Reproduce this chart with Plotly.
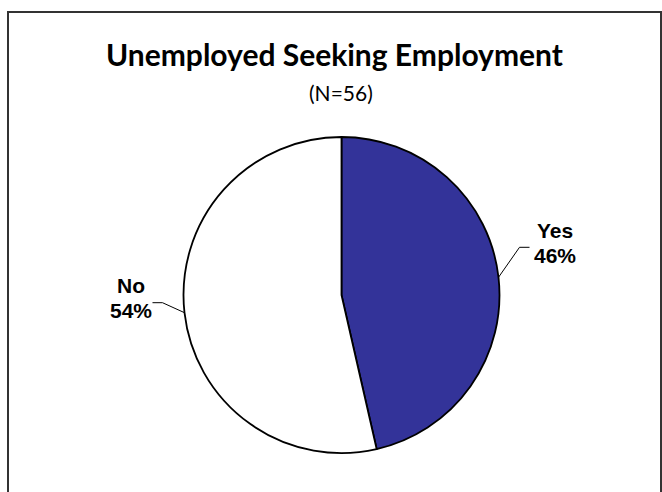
import math
import plotly.graph_objects as go

labels = ["Yes", "No"]
values = [26, 30]
colors = ["#333399", "#FFFFFF"]
title_text = "Unemployed Seeking Employment"
subtitle_text = "(N=56)"

W, H = 662, 492
# pie geometry in pixels
CX, CY, R = 341.5, 295.0, 158.0

def px(x):
    return x / W

def py(y):
    return 1 - y / H

fig = go.Figure()
fig.add_trace(go.Pie(
    labels=labels, values=values, sort=False, direction="clockwise", rotation=0,
    marker=dict(colors=colors, line=dict(color="#000000", width=1.8)),
    textinfo="none", hoverinfo="label+percent", showlegend=False,
    domain=dict(x=[px(CX - R), px(CX + R)], y=[py(CY + R), py(CY - R)]),
))

total = sum(values)
annotations = [
    dict(text="<b>" + title_text + "</b>", x=px(335), y=py(54), xref="paper", yref="paper",
         xanchor="center", yanchor="middle", showarrow=False,
         font=dict(family="Lato", size=30, color="#000000")),
    dict(text=subtitle_text, x=px(341), y=py(93), xref="paper", yref="paper",
         xanchor="center", yanchor="middle", showarrow=False,
         font=dict(family="Lato", size=21, color="#000000")),
]
shapes = [
    dict(type="rect", xref="paper", yref="paper", x0=px(8), x1=px(661), y0=py(H + 10), y1=py(12),
         line=dict(color="#333333", width=2), fillcolor="rgba(0,0,0,0)", layer="above"),
]

lab_font = dict(family="Liberation Sans", size=21, color="#000000")
cum = 0
for lab, v in zip(labels, values):
    mid = (cum + v / 2) / total
    cum += v
    ang = math.radians(90 - mid * 360)
    ex, ey = CX + R * math.cos(ang), CY - R * math.sin(ang)
    pct = round(100 * v / total)
    if math.cos(ang) >= 0:
        elx, ely = ex + 21, ey - 30
        tx = elx + 10
        cx_text = tx + 25
    else:
        elx, ely = ex - 22, ey - 10
        tx = elx - 10
        cx_text = tx - 21.5
    shapes.append(dict(type="path", xref="paper", yref="paper",
                       path=f"M {px(ex)},{py(ey)} L {px(elx)},{py(ely)} L {px(tx)},{py(ely)}",
                       line=dict(color="#000000", width=1)))
    annotations.append(dict(text=f"<b>{lab}</b>", x=px(cx_text), y=py(ely - 17), xref="paper", yref="paper",
                            xanchor="center", yanchor="middle", showarrow=False, font=lab_font))
    annotations.append(dict(text=f"<b>{pct}%</b>", x=px(cx_text), y=py(ely + 8), xref="paper", yref="paper",
                            xanchor="center", yanchor="middle", showarrow=False, font=lab_font))

fig.update_layout(
    width=W, height=H, autosize=False,
    margin=dict(l=0, r=0, t=0, b=0),
    paper_bgcolor="#FFFFFF", plot_bgcolor="#FFFFFF",
    annotations=annotations, shapes=shapes,
)
fig.write_html("out.html", config={"displayModeBar": False},
               post_script="document.body.style.margin='0';document.body.style.overflow='hidden';")
